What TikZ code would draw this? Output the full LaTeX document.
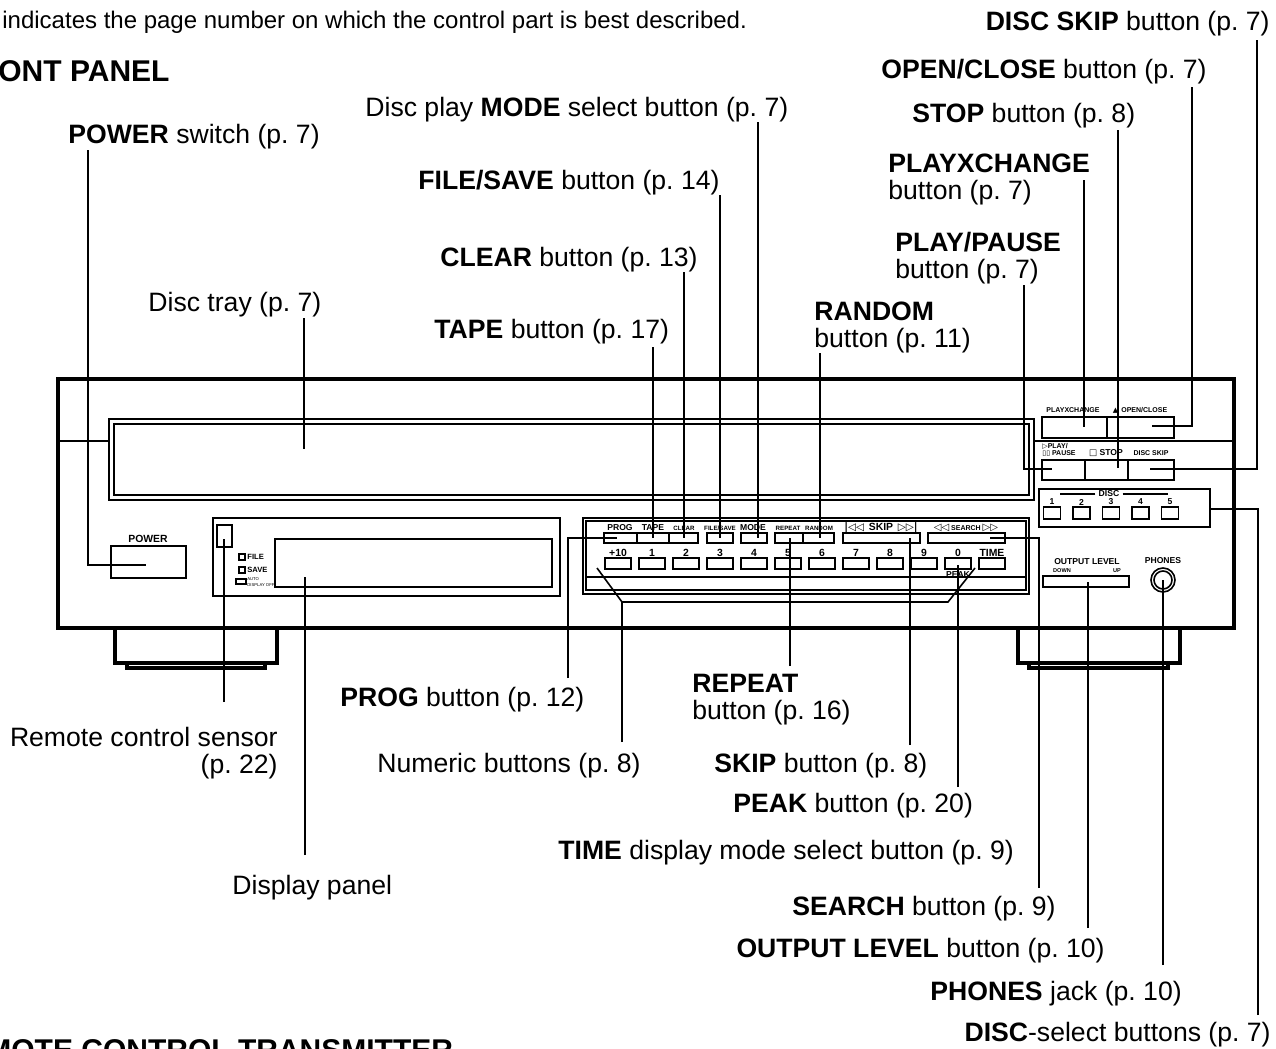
\documentclass[tikz,border=0pt]{standalone}
\usepackage{fontspec}
\setmainfont{Liberation Sans}
\newfontfamily\symf{DejaVu Sans}
\frenchspacing
\begin{document}
\begin{tikzpicture}[x=0.5pt,y=-0.5pt,
lbl/.style={inner sep=0, font=\fontsize{13.3}{13.4}\selectfont},
note/.style={inner sep=0, font=\fontsize{12}{13}\selectfont},
head/.style={inner sep=0, font=\bfseries\fontsize{15}{16}\selectfont},
lead/.style={line width=1.2pt},
heavy/.style={line width=1.6pt},
mid/.style={line width=1.2pt},
thin/.style={line width=0.8pt},
pl/.style={inner sep=0, font=\bfseries\fontsize{4.3}{5}\selectfont},
pls/.style={inner sep=0, font=\bfseries\fontsize{3.5}{4}\selectfont},
plc/.style={inner sep=0, font=\bfseries\fontsize{3.1}{4}\selectfont},
plb/.style={inner sep=0, font=\bfseries\fontsize{5.2}{6}\selectfont},
pli/.style={inner sep=0, font=\bfseries\fontsize{3.8}{4}\selectfont},
plt/.style={inner sep=0, font=\fontsize{2.1}{3.4}\selectfont}]
\useasboundingbox (0,0) rectangle (1276,1049);
\node[note, anchor=base west] (note) at (2,28) {indicates the page number on which the control part is best described.};
\node[head, anchor=base west] (hFront) at (-2,82) {ONT PANEL};
\node[head, anchor=base west] (hRemote) at (-14,1060) {MOTE CONTROL TRANSMITTER};
\node[lbl, anchor=base west] (lPower) at (68,143) {\textbf{POWER} switch (p. 7)};
\node[lbl, anchor=base west] (lMode) at (365,116) {Disc play \textbf{MODE} select button (p. 7)};
\node[lbl, anchor=base west] (lFile) at (418,189) {\textbf{FILE/SAVE} button (p. 14)};
\node[lbl, anchor=base west] (lClear) at (440,266) {\textbf{CLEAR} button (p. 13)};
\node[lbl, anchor=base west] (lTray) at (148,311) {Disc tray (p. 7)};
\node[lbl, anchor=base west] (lTape) at (434,338) {\textbf{TAPE} button (p. 17)};
\node[lbl, anchor=north west, align=left] (lRandom) at (814,302) {\textbf{RANDOM}\\button (p. 11)};
\node[lbl, anchor=base east] (lDskip) at (1270,31) {\textbf{DISC SKIP} button (p. 7)};
\node[lbl, anchor=base east] (lOpen) at (1207,78) {\textbf{OPEN/CLOSE} button (p. 7)};
\node[lbl, anchor=base west] (lStop) at (912,122) {\textbf{STOP} button (p. 8)};
\node[lbl, anchor=north west, align=left] (lXchg) at (888,154) {\textbf{PLAYXCHANGE}\\button (p. 7)};
\node[lbl, anchor=north west, align=left] (lPlay) at (895,232) {\textbf{PLAY/PAUSE}\\button (p. 7)};
\node[lbl, anchor=base west] (lProg) at (340,706) {\textbf{PROG} button (p. 12)};
\node[lbl, anchor=north west, align=left] (lRepeat) at (692,674) {\textbf{REPEAT}\\button (p. 16)};
\node[lbl, anchor=north east, align=right] (lSensor) at (278,727) {Remote control sensor\\(p. 22)};
\node[lbl, anchor=base west] (lNum) at (377,772) {Numeric buttons (p. 8)};
\node[lbl, anchor=base west] (lSkip) at (714,772) {\textbf{SKIP} button (p. 8)};
\node[lbl, anchor=base west] (lPeak) at (733,812) {\textbf{PEAK} button (p. 20)};
\node[lbl, anchor=base west] (lTime) at (558,859) {\textbf{TIME} display mode select button (p. 9)};
\node[lbl, anchor=base west] (lDisplay) at (232,894) {Display panel};
\node[lbl, anchor=base west] (lSearch) at (792,915) {\textbf{SEARCH} button (p. 9)};
\node[lbl, anchor=base east] (lLevel) at (1105,957) {\textbf{OUTPUT LEVEL} button (p. 10)};
\node[lbl, anchor=base west] (lPhones) at (930,1000) {\textbf{PHONES} jack (p. 10)};
\node[lbl, anchor=base east] (lDisc) at (1271,1041) {\textbf{DISC}-select buttons (p. 7)};
\draw[heavy] (58,379) rectangle (1234,628);
\draw[heavy] (115,628) rectangle (277,663);
\draw[heavy] (127,663) rectangle (265,668);
\draw[heavy] (1018,628) rectangle (1180,663);
\draw[heavy] (1029,663) rectangle (1168,668);
\draw[mid] (109,419) rectangle (1034,500);
\draw[thin] (114,424) rectangle (1029,495);
\draw[mid] (58,441) -- (109,441) (1034,441) -- (1234,441);
\draw[thin] (111,546) rectangle (186,578);
\node[plb] (tPower) at (148,539) {POWER};
\draw[thin] (213,518) rectangle (560,596);
\draw[thin] (217,525) rectangle (232,547);
\draw[thin] (275,539) rectangle (552,587);
\draw[thin] (239,554) rectangle (245,560);
\draw[thin] (239,567) rectangle (245,573);
\draw[thin] (236,579) rectangle (246,584);
\node[pli, anchor=west] (iFile) at (247,557) {FILE};
\node[pli, anchor=west] (iSave) at (247,570) {SAVE};
\node[plt, anchor=west, align=left] (iAuto) at (247,582) {AUTO\\DISPLAY OFF};
\draw[thin] (583,518) rectangle (1029,594);
\draw[thin] (586,521) rectangle (1026,590);
\draw[thin] (586,577) -- (1026,577);
\draw[thin] (604,533) rectangle (698,543) (637,533) -- (637,543) (669,533) -- (669,543);
\draw[thin] (707,533) rectangle (733,543);
\draw[thin] (741,533) rectangle (767,543);
\draw[thin] (775,533) rectangle (834,543) (803,533) -- (803,543);
\draw[thin] (843,533) rectangle (920,543);
\draw[thin] (928,533) rectangle (1005,543);
\node[pl] (tProg) at (620,528) {PROG};
\node[pl] (tTape) at (653,528) {TAPE};
\node[plc] (tClear) at (684,528) {CLEAR};
\node[plc] (tFile) at (720,528) {FILE/SAVE};
\node[pl] (tMode) at (753,528) {MODE};
\node[plc] (tRepeat) at (788,528) {REPEAT};
\node[plc] (tRandom) at (819,528) {RANDOM};
\node[plb] (tSkip) at (881,528) {{\symf|◁◁}\, SKIP \,{\symf▷▷|}};
\node[pls] (tSearch) at (966,528) {{\symf\fontsize{5}{5}\selectfont◁◁} SEARCH {\symf\fontsize{5}{5}\selectfont▷▷}};
\foreach \t [count=\i from 0] in {+10,1,2,3,4,5,6,7,8,9,0,TIME} {
  \node[plb] (n\i) at ({618+34*\i},553) {\t};
  \draw[thin] ({605+34*\i},558) rectangle ({631+34*\i},569);
}
\node[pl] (tPeak) at (958,575) {PEAK};
\draw[thin] (1042,417) rectangle (1174,438) (1107,417) -- (1107,438);
\draw[thin] (1042,460) rectangle (1174,480) (1085,460) -- (1085,480) (1128,460) -- (1128,480);
\node[pls] (tXchg) at (1073,410) {PLAYXCHANGE};
\node[pls] (tOpen) at (1140,410) {{\symf▲}\, OPEN/CLOSE};
\node[pls, anchor=west] (tPlay) at (1042,446) {{\symf▷}PLAY/};
\node[pls, anchor=west] (tPause) at (1042,453) {{\symf▯▯} PAUSE};
\node[pl] (tStop) at (1106,453) {{\symf□} STOP};
\node[pls] (tDskip) at (1151,453) {DISC SKIP};
\draw[mid] (1039,489) rectangle (1210,527);
\node[pl] (tDisc) at (1109,494) {DISC};
\draw[thin] (tDisc.west) ++(-3,0) -- ++(-35,0) (tDisc.east) ++(3,0) -- ++(45,0);
\foreach \i in {1,...,5} {
  \node[pl] (d\i) at ({1022.5+29.5*\i},502) {\i};
  \draw[thin] ({1014+29.5*\i},507) rectangle ({1031+29.5*\i},519);
}
\draw[thin] (1043,576) rectangle (1129,587);
\node[pl] (tLevel) at (1087,562) {OUTPUT LEVEL};
\node[plt, font=\bfseries\fontsize{2.8}{3}\selectfont] (tDown) at (1062,571) {DOWN};
\node[plt, font=\bfseries\fontsize{2.8}{3}\selectfont] (tUp) at (1117,571) {UP};
\node[pl] (tPhones) at (1163,561) {PHONES};
\draw[thin] (1163,580) circle[radius=12];
\draw[thin] (1163,580) circle[radius=9];
\coordinate (aPower) at (88,150);   \coordinate (bPower) at (146,565);
\coordinate (aTray) at (304,318);   \coordinate (bTray) at (304,449);
\coordinate (aMode) at (758,122);   \coordinate (bMode) at (758,538);
\coordinate (aFile) at (720,195);   \coordinate (bFile) at (720,538);
\coordinate (aClear) at (684,272);  \coordinate (bClear) at (684,538);
\coordinate (aTape) at (653,347);   \coordinate (bTape) at (653,538);
\coordinate (aRandom) at (820,353); \coordinate (bRandom) at (820,538);
\coordinate (aDskip) at (1257,40);  \coordinate (bDskip) at (1150,469);
\coordinate (aOpen) at (1192,87);   \coordinate (bOpen) at (1152,426);
\coordinate (aStop) at (1118,130);  \coordinate (bStop) at (1118,468);
\coordinate (aXchg) at (1084,180);  \coordinate (bXchg) at (1084,427);
\coordinate (aPlay) at (1024,285);  \coordinate (bPlay) at (1052,469);
\coordinate (aProg) at (568,678);   \coordinate (bProg) at (617,538);
\coordinate (aRepeat) at (790,666); \coordinate (bRepeat) at (790,538);
\coordinate (aSensor) at (224,702); \coordinate (bSensor) at (224,539);
\coordinate (aNum) at (622,742);    \coordinate (bNum) at (622,602);
\coordinate (cNum) at (597,568);    \coordinate (dNum) at (948,602);  \coordinate (eNum) at (975,568);
\coordinate (aSkip) at (910,745);   \coordinate (bSkip) at (910,538);
\coordinate (aPeak) at (958,787);   \coordinate (bPeak) at (958,565);
\coordinate (aDisplay) at (305,855); \coordinate (bDisplay) at (305,577);
\coordinate (aSearch) at (1039,888); \coordinate (bSearch) at (990,538);
\coordinate (aLevel) at (1088,928); \coordinate (bLevel) at (1088,582);
\coordinate (aPhones) at (1163,965); \coordinate (bPhones) at (1163,580);
\coordinate (aDisc) at (1258,1015); \coordinate (bDisc) at (1210,509);
\draw[lead] (aPower) |- (bPower);
\draw[lead] (aTray) -- (bTray);
\draw[lead] (aMode) -- (bMode);
\draw[lead] (aFile) -- (bFile);
\draw[lead] (aClear) -- (bClear);
\draw[lead] (aTape) -- (bTape);
\draw[lead] (aRandom) -- (bRandom);
\draw[lead] (aDskip) |- (bDskip);
\draw[lead] (aOpen) |- (bOpen);
\draw[lead] (aStop) -- (bStop);
\draw[lead] (aXchg) -- (bXchg);
\draw[lead] (aPlay) |- (bPlay);
\draw[lead] (aProg) |- (bProg);
\draw[lead] (aRepeat) -- (bRepeat);
\draw[lead] (aSensor) -- (bSensor);
\draw[lead] (aNum) -- (bNum);
\draw[thin] (cNum) -- (bNum) -- (dNum) -- (eNum);
\draw[lead] (aSkip) -- (bSkip);
\draw[lead] (aPeak) -- (bPeak);
\draw[lead] (aDisplay) -- (bDisplay);
\draw[lead] (aSearch) |- (bSearch);
\draw[lead] (aLevel) -- (bLevel);
\draw[lead] (aPhones) -- (bPhones);
\draw[lead] (aDisc) |- (bDisc);
\end{tikzpicture}
\end{document}
